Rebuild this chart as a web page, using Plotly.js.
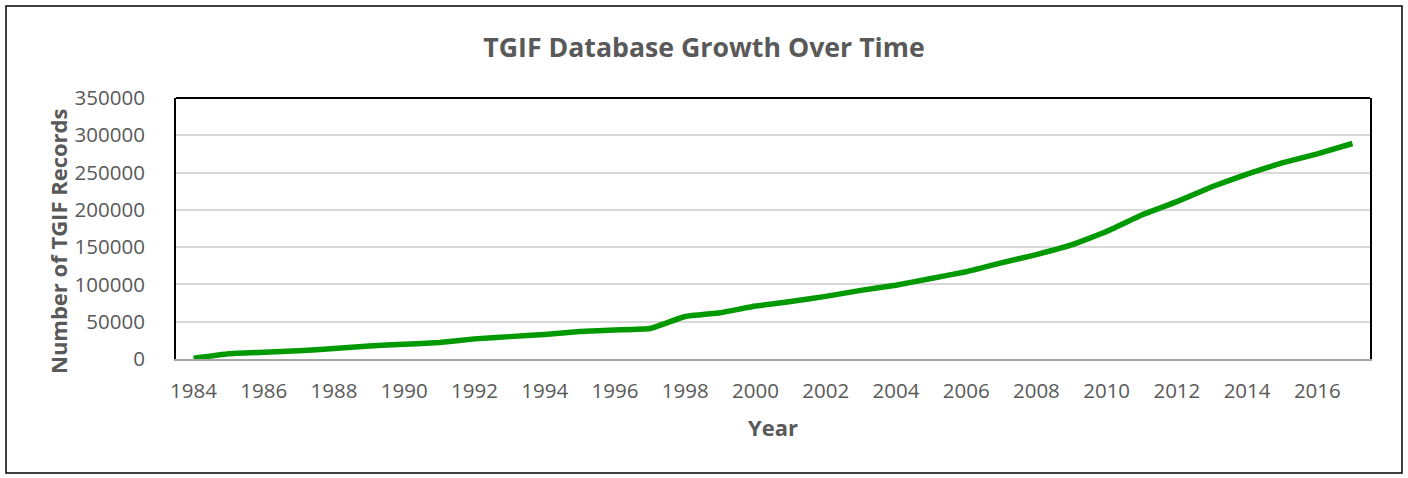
<!DOCTYPE html>
<html>
<head>
<meta charset="utf-8">
<script src="https://cdn.plot.ly/plotly-3.0.1.min.js"></script>
<style>html,body{margin:0;padding:0;background:#fff;}#chart{width:1408px;height:478px;}</style>
</head>
<body>
<div id="chart"></div>
<script>
const years = [1984,1985,1986,1987,1988,1989,1990,1991,1992,1993,1994,1995,1996,1997,1998,1999,2000,2001,2002,2003,2004,2005,2006,2007,2008,2009,2010,2011,2012,2013,2014,2015,2016,2017];
const records = [1000,7000,9000,11000,14000,17500,19700,22000,27000,30000,33000,37000,39000,41000,57000,62000,71000,77000,84000,92000,99000,108000,117000,129000,140000,153000,171000,193000,211000,231000,248000,263000,275000,289000];
const xTickVals = [1984,1986,1988,1990,1992,1994,1996,1998,2000,2002,2004,2006,2008,2010,2012,2014,2016];
const yTickVals = [0,50000,100000,150000,200000,250000,300000,350000];
const titleText = "TGIF Database Growth Over Time";
const xTitle = "Year";
const yTitle = "Number of TGIF Records";

const FONT = "Open Sans, Lato, sans-serif";
const GREY = "#595959";

const trace = {
  x: years, y: records, type: "scatter", mode: "lines",
  line: {color: "#009a00", width: 5.5, shape: "spline", smoothing: 0.3},
  hoverinfo: "skip"
};

const layout = {
  width: 1408, height: 478,
  margin: {l: 176, r: 38, t: 98, b: 119, pad: 0},
  paper_bgcolor: "#ffffff", plot_bgcolor: "#ffffff",
  showlegend: false,
  font: {family: FONT, color: GREY},
  title: {text: "<b>" + titleText + "</b>", font: {family: FONT, size: 26.7, color: GREY},
          x: 0.5, xref: "container", xanchor: "center", y: 0.9, yref: "container", yanchor: "middle"},
  xaxis: {
    range: [1983.5, 2017.5], tickvals: xTickVals, ticktext: xTickVals.map(String),
    showgrid: false, zeroline: false, showline: true, linecolor: "#a6a6a6", linewidth: 2,
    ticks: "", ticklabelstandoff: 12, tickfont: {family: FONT, size: 20.5, color: GREY},
    title: {text: "<b>" + xTitle + "</b>", font: {family: FONT, size: 22, color: GREY}, standoff: 18},
    automargin: false, fixedrange: true
  },
  yaxis: {
    range: [0, 350000], tickvals: yTickVals, ticktext: yTickVals.map(String),
    showgrid: true, gridcolor: "#d9d9d9", gridwidth: 2,
    zeroline: false, showline: true, linecolor: "#000000", linewidth: 2, mirror: true,
    ticks: "", ticklabelstandoff: 25, tickfont: {family: FONT, size: 20.5, color: GREY},
    automargin: false, fixedrange: true
  },
  annotations: [
    {text: "<b>" + yTitle + "</b>", xref: "paper", yref: "paper",
     x: (58 - 176) / 1194, y: (359 - 241) / 261, xanchor: "center", yanchor: "middle",
     textangle: -90, showarrow: false, font: {family: FONT, size: 22, color: GREY}}
  ],
  shapes: [
    {type: "line", xref: "paper", yref: "paper", x0: 0, x1: 1, y0: 1, y1: 1, line: {color: "#000", width: 2}},
    {type: "rect", xref: "paper", yref: "paper",
     x0: (6 - 176) / 1194, x1: (1402 - 176) / 1194, y0: (359 - 473) / 261, y1: (359 - 6) / 261,
     line: {color: "#000", width: 1.5}, fillcolor: "rgba(0,0,0,0)", layer: "below"}
  ]
};

Plotly.newPlot("chart", [trace], layout, {staticPlot: true, displayModeBar: false});
</script>
</body>
</html>
